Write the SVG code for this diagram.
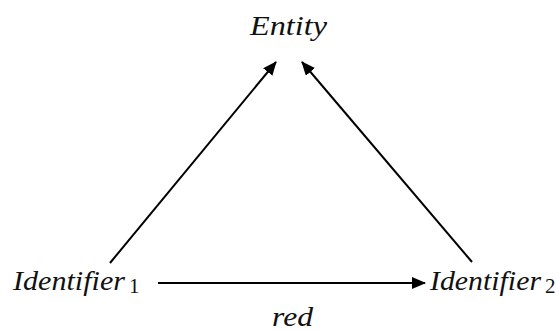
<svg xmlns="http://www.w3.org/2000/svg" width="556" height="331" viewBox="0 0 556 331">
<style>
.lbl{font-family:"Liberation Serif","DejaVu Serif",serif;font-style:italic;font-size:27px;fill:#111;}
.sub{font-family:"Liberation Serif","DejaVu Serif",serif;font-size:21px;fill:#111;}
.conn{stroke:#000;stroke-width:2;fill:none;marker-end:url(#ah);}
</style>
<defs>
<marker id="ah" viewBox="0 0 14 12" refX="13" refY="6" markerWidth="14" markerHeight="12" markerUnits="userSpaceOnUse" orient="auto">
<path d="M0,0 L14,6 L0,12 Z" fill="#000"/>
</marker>
</defs>
<rect width="556" height="331" fill="#fff"/>
<g id="connectors">
<line class="conn" x1="110" y1="263" x2="276" y2="62"/>
<line class="conn" x1="472" y1="262" x2="302" y2="62"/>
<line class="conn" x1="158" y1="283" x2="425" y2="283"/>
<text class="lbl" x="272" y="326" textLength="41" lengthAdjust="spacingAndGlyphs">red</text>
</g>
<g id="entity">
<text class="lbl" x="250" y="35" style="font-size:28px" textLength="77" lengthAdjust="spacingAndGlyphs">Entity</text>
</g>
<g id="identifier1">
<text class="lbl" x="13" y="290" textLength="112" lengthAdjust="spacingAndGlyphs">Identifier</text>
<text class="sub" x="129" y="293">1</text>
</g>
<g id="identifier2">
<text class="lbl" x="430" y="290" textLength="111" lengthAdjust="spacingAndGlyphs">Identifier</text>
<text class="sub" x="545" y="293">2</text>
</g>
</svg>
